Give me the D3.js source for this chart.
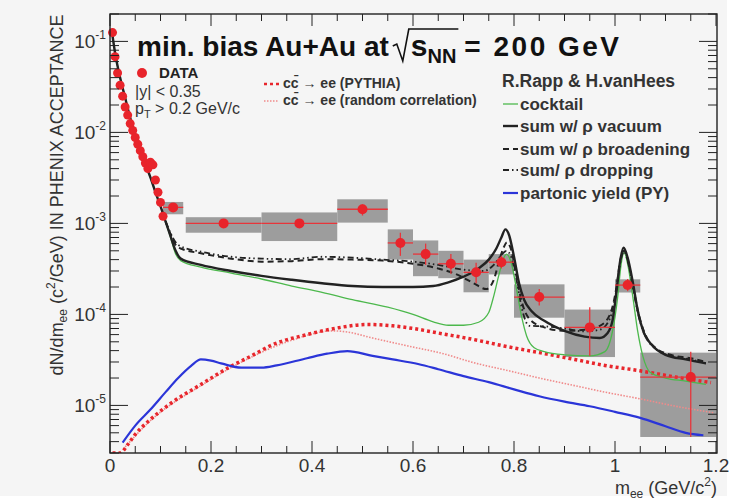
<!DOCTYPE html>
<html>
<head>
<meta charset="utf-8">
<script src="https://cdn.jsdelivr.net/npm/d3@7"></script>
<style>
  body { margin: 0; background: #fff; }
  svg { display: block; }
  text { font-family: "Liberation Sans", Arial, sans-serif; }
</style>
</head>
<body>
<svg id="chart"></svg>
<script>
// ---- data ----
// low mass data points (fine bins)
var lowM = [0.005,0.010,0.015,0.020,0.025,0.030,0.035,0.040,0.045,0.050,0.055,0.060,0.065,0.070,0.075,0.080,0.085,0.090,0.095,0.100,0.105];
var lowV = [0.125,0.068,0.045,0.033,0.025,0.019,0.0155,0.0125,0.0105,0.0088,0.0074,0.0063,0.0054,0.0046,0.0040,0.0047,0.0044,0.0030,0.0022,0.0017,0.0012];

// binned data points with systematic boxes
var binLo = [0.105,0.15,0.30,0.45,0.55,0.60,0.65,0.70,0.75,0.80,0.90,1.00,1.05];
var binHi = [0.145,0.30,0.45,0.55,0.60,0.65,0.70,0.75,0.80,0.90,1.00,1.05,1.20];
var dataM = [0.125,0.225,0.375,0.50,0.575,0.625,0.675,0.725,0.775,0.85,0.95,1.025,1.15];
var dataV = [1.5e-3,1.0e-3,1.0e-3,1.43e-3,6.1e-4,4.6e-4,3.6e-4,2.9e-4,3.75e-4,1.55e-4,7.2e-5,2.1e-4,2.05e-5];
var statLo = [1.45e-3,0.96e-3,0.96e-3,1.22e-3,4.4e-4,3.5e-4,2.8e-4,2.2e-4,3.2e-4,1.25e-4,3.5e-5,1.8e-4,4.5e-6];
var statHi = [1.55e-3,1.04e-3,1.04e-3,1.62e-3,7.9e-4,6.0e-4,4.6e-4,3.7e-4,4.4e-4,1.9e-4,1.2e-4,2.45e-4,3.9e-5];
var sysLo = [1.26e-3,7.9e-4,6.4e-4,1.02e-3,4.0e-4,2.63e-4,2.5e-4,1.75e-4,2.75e-4,9.2e-5,3.4e-5,1.74e-4,4.5e-6];
var sysHi = [1.72e-3,1.17e-3,1.32e-3,1.84e-3,8.6e-4,6.5e-4,5.0e-4,4.0e-4,4.6e-4,2.14e-4,1.13e-4,2.43e-4,3.8e-5];

// R.Rapp & H.vanHees curves
var cocktailM = [0.005,0.01,0.02,0.03,0.04,0.05,0.06,0.07,0.08,0.09,0.10,0.11,0.12,0.13,0.14,0.18,0.24,0.30,0.36,0.42,0.48,0.55,0.60,0.64,0.67,0.70,0.73,0.75,0.76,0.77,0.78,0.785,0.795,0.805,0.815,0.825,0.84,0.86,0.90,0.95,0.98,0.995,1.005,1.012,1.018,1.025,1.035,1.045,1.055,1.07,1.10,1.14,1.18];
var cocktailV = [0.115,0.075,0.040,0.024,0.0145,0.0095,0.0064,0.0045,0.0032,0.0022,0.00155,0.00105,7.0e-4,4.6e-4,3.9e-4,3.3e-4,2.85e-4,2.45e-4,2.05e-4,1.75e-4,1.45e-4,1.2e-4,1.0e-4,8.3e-5,7.6e-5,7.6e-5,8.2e-5,1.05e-4,1.6e-4,2.7e-4,4.2e-4,4.6e-4,3.6e-4,1.9e-4,9.5e-5,5.8e-5,4.3e-5,3.9e-5,3.6e-5,3.5e-5,3.9e-5,6.5e-5,1.5e-4,3.5e-4,4.8e-4,3.6e-4,1.6e-4,6.5e-5,3.5e-5,2.3e-5,2.0e-5,1.85e-5,1.7e-5];

var vacuumM = [0.005,0.01,0.02,0.03,0.04,0.05,0.06,0.07,0.08,0.09,0.10,0.11,0.12,0.13,0.14,0.18,0.24,0.30,0.36,0.42,0.48,0.54,0.60,0.64,0.67,0.70,0.73,0.75,0.765,0.775,0.783,0.79,0.80,0.81,0.82,0.835,0.86,0.90,0.94,0.97,0.985,0.995,1.003,1.01,1.017,1.025,1.035,1.045,1.057,1.075,1.10,1.14,1.18];
var vacuumV = [0.115,0.075,0.040,0.024,0.0145,0.0095,0.0064,0.0045,0.0032,0.0022,0.00155,0.00105,7.2e-4,5.0e-4,4.1e-4,3.5e-4,3.0e-4,2.65e-4,2.4e-4,2.2e-4,2.05e-4,2.0e-4,2.0e-4,2.05e-4,2.25e-4,2.6e-4,3.2e-4,4.0e-4,5.3e-4,7.0e-4,8.6e-4,7.5e-4,4.3e-4,2.2e-4,1.45e-4,1.08e-4,8.5e-5,6.6e-5,5.7e-5,5.5e-5,6.2e-5,8.5e-5,1.8e-4,3.8e-4,5.4e-4,4.2e-4,2.3e-4,1.1e-4,6.3e-5,4.5e-5,3.6e-5,3.2e-5,2.9e-5];

var broadM = [0.11,0.12,0.13,0.14,0.18,0.24,0.30,0.36,0.42,0.48,0.54,0.60,0.65,0.69,0.72,0.745,0.76,0.77,0.78,0.786,0.795,0.805,0.815,0.83,0.86,0.90,0.94,0.97,0.99,1.003,1.01,1.018,1.026,1.036,1.047,1.06,1.08,1.11,1.15,1.18];
var broadV = [0.00105,7.6e-4,5.8e-4,5.3e-4,4.7e-4,4.1e-4,3.8e-4,3.85e-4,4.05e-4,4.0e-4,3.9e-4,3.6e-4,3.2e-4,2.7e-4,2.2e-4,1.9e-4,2.4e-4,3.8e-4,5.5e-4,6.2e-4,5.0e-4,2.6e-4,1.4e-4,9.0e-5,7.2e-5,6.6e-5,6.8e-5,7.5e-5,1.0e-4,2.0e-4,3.8e-4,5.0e-4,3.8e-4,2.0e-4,1.0e-4,6.0e-5,4.3e-5,3.6e-5,3.3e-5,3.0e-5];

var dropM = [0.11,0.12,0.13,0.14,0.18,0.24,0.30,0.36,0.42,0.48,0.54,0.60,0.65,0.70,0.74,0.76,0.775,0.785,0.795,0.805,0.815,0.83,0.86,0.90,0.94,0.97,0.99,1.003,1.01,1.018,1.026,1.036,1.047,1.06,1.08,1.11,1.15,1.18];
var dropV = [0.00105,7.8e-4,6.2e-4,5.6e-4,4.9e-4,4.3e-4,4.1e-4,4.05e-4,4.3e-4,4.2e-4,4.0e-4,3.8e-4,3.5e-4,3.1e-4,3.0e-4,3.5e-4,4.5e-4,5.0e-4,4.2e-4,2.4e-4,1.2e-4,7.5e-5,7.4e-5,7.0e-5,6.5e-5,6.8e-5,9.0e-5,1.9e-4,3.6e-4,4.9e-4,3.7e-4,1.9e-4,9.5e-5,5.8e-5,4.2e-5,3.5e-5,3.2e-5,2.9e-5];

var partonM = [0.025,0.05,0.08,0.11,0.135,0.16,0.18,0.20,0.22,0.26,0.30,0.33,0.39,0.43,0.47,0.52,0.56,0.61,0.65,0.70,0.75,0.80,0.85,0.90,0.95,1.00,1.05,1.10,1.14,1.175];
var partonV = [3.9e-6,6.0e-6,9.0e-6,1.4e-5,2.0e-5,2.7e-5,3.2e-5,3.1e-5,2.9e-5,2.6e-5,2.6e-5,2.75e-5,3.3e-5,3.7e-5,3.95e-5,3.5e-5,3.2e-5,2.85e-5,2.5e-5,2.1e-5,1.8e-5,1.5e-5,1.26e-5,1.1e-5,9.8e-6,8.5e-6,7.3e-6,5.9e-6,5.0e-6,4.7e-6];

// charm curves
var pythiaM = [0.005,0.02,0.035,0.05,0.08,0.12,0.18,0.24,0.28,0.32,0.39,0.45,0.51,0.56,0.60,0.66,0.72,0.78,0.85,0.92,0.98,1.05,1.12,1.19];
var pythiaV = [3.0e-6,3.0e-6,3.7e-6,4.8e-6,7.0e-6,1.05e-5,1.7e-5,2.7e-5,3.5e-5,4.6e-5,6.0e-5,7.1e-5,7.75e-5,7.5e-5,7.0e-5,6.1e-5,5.3e-5,4.5e-5,3.8e-5,3.2e-5,2.75e-5,2.4e-5,2.05e-5,1.78e-5];
var randomM = [0.03,0.08,0.18,0.28,0.36,0.44,0.47,0.52,0.59,0.66,0.72,0.79,0.85,0.92,0.98,1.05,1.12,1.195];
var randomV = [3.5e-6,6.8e-6,1.65e-5,3.4e-5,5.2e-5,6.6e-5,6.4e-5,5.5e-5,4.5e-5,3.7e-5,2.95e-5,2.4e-5,2.0e-5,1.65e-5,1.4e-5,1.18e-5,9.8e-6,8.3e-6];

var xTickLabels = ['0','0.2','0.4','0.6','0.8','1','1.2'];
var yTickExps = ['-5','-4','-3','-2','-1'];

// ---- layout ----
var W = 733, H = 501;
var plot = {left: 110, right: 717, top: 14, bottom: 453};

var svg = d3.select('#chart').attr('width', W).attr('height', H);
svg.append('rect').attr('width', 727).attr('height', 496).attr('fill', '#f5f5f5');

var x = d3.scaleLinear().domain([0, 1.2]).range([plot.left, plot.right - 1]);
var y = d3.scaleLog().domain([3e-6, 0.2]).range([plot.bottom, plot.top]);

svg.append('clipPath').attr('id', 'clip')
  .append('rect')
  .attr('x', plot.left).attr('y', plot.top)
  .attr('width', plot.right - plot.left).attr('height', plot.bottom - plot.top);

var line = d3.line()
  .x(function(d) { return x(d[0]); })
  .y(function(d) { return y(d[1]); })
  .curve(d3.curveMonotoneX);

// systematic boxes
var boxes = d3.range(binLo.length);
svg.append('g').selectAll('rect')
  .data(boxes)
  .enter()
  .append('rect')
  .attr('x', function(i) { return x(binLo[i]); })
  .attr('y', function(i) { return y(sysHi[i]); })
  .attr('width', function(i) { return x(binHi[i]) - x(binLo[i]); })
  .attr('height', function(i) { return y(sysLo[i]) - y(sysHi[i]); })
  .attr('fill', '#9d9d9d');

// curves
var curves = svg.append('g').attr('clip-path', 'url(#clip)');
var series = [
  {m: randomM, v: randomV, color: '#f08a8a', width: 1.6, dash: '1.5,1.5'},
  {m: pythiaM, v: pythiaV, color: '#e8262c', width: 3.5, dash: '3,3'},
  {m: partonM, v: partonV, color: '#2b35d8', width: 2.2, dash: null},
  {m: cocktailM, v: cocktailV, color: '#4cb84c', width: 1.3, dash: null},
  {m: dropM, v: dropV, color: '#222', width: 1.8, dash: '6,3,1.5,3,1.5,3'},
  {m: broadM, v: broadV, color: '#222', width: 2, dash: '6,4'},
  {m: vacuumM, v: vacuumV, color: '#222', width: 2.4, dash: null}
];
series.forEach(function(s) {
  curves.append('path')
    .attr('d', line(d3.zip(s.m, s.v)))
    .attr('fill', 'none')
    .attr('stroke', s.color)
    .attr('stroke-width', s.width)
    .attr('stroke-dasharray', s.dash);
});

// error bars
var errs = svg.append('g').attr('stroke', '#e8353a').attr('stroke-width', 1.3);
errs.selectAll('line.h')
  .data(boxes)
  .enter()
  .append('line')
  .attr('class', 'h')
  .attr('x1', function(i) { return x(binLo[i]); })
  .attr('x2', function(i) { return x(binHi[i]); })
  .attr('y1', function(i) { return y(dataV[i]); })
  .attr('y2', function(i) { return y(dataV[i]); });
errs.selectAll('line.v')
  .data(boxes)
  .enter()
  .append('line')
  .attr('class', 'v')
  .attr('x1', function(i) { return x(dataM[i]); })
  .attr('x2', function(i) { return x(dataM[i]); })
  .attr('y1', function(i) { return y(statHi[i]); })
  .attr('y2', function(i) { return y(statLo[i]); });

// data points
var dots = svg.append('g').attr('fill', '#e8242b');
dots.selectAll('circle.low')
  .data(d3.zip(lowM, lowV))
  .enter()
  .append('circle')
  .attr('class', 'low')
  .attr('cx', function(d) { return x(d[0]); })
  .attr('cy', function(d) { return y(d[1]); })
  .attr('r', 4.5);
dots.selectAll('circle.bin')
  .data(d3.zip(dataM, dataV))
  .enter()
  .append('circle')
  .attr('class', 'bin')
  .attr('cx', function(d) { return x(d[0]); })
  .attr('cy', function(d) { return y(d[1]); })
  .attr('r', 5);

// ---- frame and ticks ----
var axes = svg.append('g').attr('stroke', '#222').attr('stroke-width', 1);
axes.append('rect')
  .attr('x', plot.left).attr('y', plot.top)
  .attr('width', plot.right - plot.left).attr('height', plot.bottom - plot.top)
  .attr('fill', 'none').attr('stroke-width', 1.4);

var yt = y.ticks();
yt.forEach(function(t) {
  var major = Math.abs(Math.log10(t) - Math.round(Math.log10(t))) < 1e-6;
  var len = major ? 18 : 9;
  axes.append('line').attr('x1', plot.left).attr('x2', plot.left + len).attr('y1', y(t)).attr('y2', y(t));
  axes.append('line').attr('x1', plot.right).attr('x2', plot.right - len).attr('y1', y(t)).attr('y2', y(t));
});

var xt = x.ticks(24);
xt.forEach(function(t) {
  var major = Math.abs(t / 0.2 - Math.round(t / 0.2)) < 1e-6;
  var len = major ? 12 : 7;
  axes.append('line').attr('x1', x(t)).attr('x2', x(t)).attr('y1', plot.bottom).attr('y2', plot.bottom - len);
  axes.append('line').attr('x1', x(t)).attr('x2', x(t)).attr('y1', plot.top).attr('y2', plot.top + len);
});

// tick labels
svg.append('g').selectAll('text')
  .data(xTickLabels)
  .enter()
  .append('text')
  .attr('x', function(d) { return x(+d); })
  .attr('y', 472)
  .attr('text-anchor', 'middle')
  .attr('font-size', 19)
  .attr('fill', '#333')
  .text(function(d) { return d; });

var yl = svg.append('g').selectAll('text')
  .data(yTickExps)
  .enter()
  .append('text')
  .attr('x', 106)
  .attr('y', function(d) { return y(Math.pow(10, +d)) + 7; })
  .attr('text-anchor', 'end')
  .attr('font-size', 19)
  .attr('fill', '#333');
yl.append('tspan').text('10');
yl.append('tspan').attr('font-size', 12).attr('dy', -9).text(function(d) { return d; });

// axis titles
var xtitle = svg.append('text')
  .attr('x', 717).attr('y', 494)
  .attr('text-anchor', 'end').attr('font-size', 18).attr('fill', '#333');
xtitle.append('tspan').text('m');
xtitle.append('tspan').attr('font-size', 12).attr('dy', 4).text('ee');
xtitle.append('tspan').attr('dy', -4).text(' (GeV/c');
xtitle.append('tspan').attr('font-size', 12).attr('dy', -8).text('2');
xtitle.append('tspan').attr('dy', 8).text(')');

var ytitle = svg.append('text')
  .attr('transform', 'translate(63,195) rotate(-90)')
  .attr('text-anchor', 'middle').attr('font-size', 18).attr('fill', '#333');
ytitle.append('tspan').text('dN/dm');
ytitle.append('tspan').attr('font-size', 12).attr('dy', 4).text('ee');
ytitle.append('tspan').attr('dy', -4).text(' (c');
ytitle.append('tspan').attr('font-size', 12).attr('dy', -8).text('2');
ytitle.append('tspan').attr('dy', 8).text('/GeV) IN PHENIX ACCEPTANCE');

// ---- title ----
var title = svg.append('text')
  .attr('x', 137).attr('y', 56)
  .attr('font-size', 28).attr('font-weight', 'bold').attr('fill', '#111');
title.append('tspan').text('min. bias Au+Au at');
title.append('tspan').attr('dx', 22).attr('font-size', 30).text('s');
title.append('tspan').attr('font-size', 20).attr('dy', 7).text('NN');
title.append('tspan').attr('dy', -7).attr('dx', 8).attr('letter-spacing', 2.5).text('= 200 GeV');
var tn = title.node();
var sPos = tn.getStartPositionOfChar(18);
var nnEnd = tn.getEndPositionOfChar(20);
var rad = d3.path();
rad.moveTo(sPos.x - 18, 46);
rad.lineTo(sPos.x - 14, 44);
rad.lineTo(sPos.x - 8, 61);
rad.lineTo(sPos.x - 2, 29);
rad.lineTo(nnEnd.x + 2, 29);
svg.append('path').attr('d', rad.toString())
  .attr('fill', 'none').attr('stroke', '#111').attr('stroke-width', 1.6);

// ---- legends ----
svg.append('circle').attr('cx', 142).attr('cy', 73).attr('r', 5).attr('fill', '#e8242b');
svg.append('text').attr('x', 159).attr('y', 78).attr('font-size', 15)
  .attr('font-weight', 'bold').attr('fill', '#222').text('DATA');
svg.append('text').attr('x', 135).attr('y', 97).attr('font-size', 16)
  .attr('fill', '#333').text('|y| < 0.35');
var pt = svg.append('text').attr('x', 135).attr('y', 114).attr('font-size', 16).attr('fill', '#333');
pt.append('tspan').text('p');
pt.append('tspan').attr('font-size', 11).attr('dy', 4).text('T');
pt.append('tspan').attr('dy', -4).text(' > 0.2 GeV/c');

var charmLeg = [
  {label: 'cc\u0304 \u2192 ee (PYTHIA)', s: series[1], yy: 84},
  {label: 'cc\u0304 \u2192 ee (random correlation)', s: series[0], yy: 101}
];
charmLeg.forEach(function(l) {
  svg.append('line').attr('x1', 264).attr('x2', 279).attr('y1', l.yy).attr('y2', l.yy)
    .attr('stroke', l.s.color).attr('stroke-width', Math.min(l.s.width, 2.5))
    .attr('stroke-dasharray', l.s.dash);
  svg.append('text').attr('x', 283).attr('y', l.yy + 4).attr('font-size', 14)
    .attr('font-weight', 'bold').attr('fill', '#333').text(l.label);
});

svg.append('text').attr('x', 502).attr('y', 87).attr('font-size', 17.5)
  .attr('font-weight', 'bold').attr('fill', '#333').text('R.Rapp & H.vanHees');
var rappLeg = [
  {label: 'cocktail', s: series[3], yy: 104},
  {label: 'sum w/ \u03c1 vacuum', s: series[6], yy: 126},
  {label: 'sum w/ \u03c1 broadening', s: series[5], yy: 149},
  {label: 'sum/ \u03c1 dropping', s: series[4], yy: 170},
  {label: 'partonic yield (PY)', s: series[2], yy: 193}
];
rappLeg.forEach(function(l) {
  svg.append('line').attr('x1', 503).attr('x2', 518).attr('y1', l.yy).attr('y2', l.yy)
    .attr('stroke', l.s.color).attr('stroke-width', l.s.width)
    .attr('stroke-dasharray', l.s.dash);
  svg.append('text').attr('x', 520).attr('y', l.yy + 6).attr('font-size', 17)
    .attr('font-weight', 'bold').attr('fill', '#333').text(l.label);
});
</script>
</body>
</html>
